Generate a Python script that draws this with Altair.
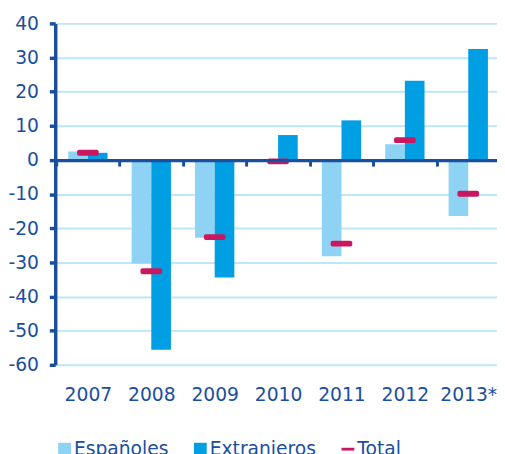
import altair as alt
import pandas as pd

years = ["2007", "2008", "2009", "2010", "2011", "2012", "2013*"]
espanoles = [2.5, -30.3, -22.8, -0.6, -28.2, 4.6, -16.4]
extranjeros = [2.1, -55.6, -34.4, 7.3, 11.6, 23.2, 32.5]
total = [2.1, -32.6, -22.6, -0.4, -24.5, 5.8, -9.9]
series = ["Españoles", "Extranjeros", "Total"]
colors = ["#8ed3f3", "#009fe3", "#c9185f"]
y_ticks = [-60, -50, -40, -30, -20, -10, 0, 10, 20, 30, 40]

DARK = "#1a4f9e"
GRID = "#bee6f6"
FONT = "DejaVu Sans"

bars_df = pd.DataFrame({
    "year": years * 2,
    "serie": ["Españoles"] * len(years) + ["Extranjeros"] * len(years),
    "value": espanoles + extranjeros,
})
total_df = pd.DataFrame({"year": years, "serie": ["Total"] * len(years), "value": total})

x_enc = alt.X(
    "year:N", sort=years, title=None,
    scale=alt.Scale(range=[1, 452], paddingInner=0, paddingOuter=0),
    axis=alt.Axis(
        labelAngle=0, labelFont=FONT, labelFontSize=19, labelColor=DARK,
        domainColor=DARK, domainWidth=3.5, tickBand="extent", tickColor=DARK,
        tickWidth=3, tickSize=6, offset=-208, labelPadding=223, zindex=1,
        grid=False, labelBaseline="top",
    ),
)
y_enc = alt.Y(
    "value:Q", title=None,
    scale=alt.Scale(domain=[-60, 40], nice=False, zero=False),
    axis=alt.Axis(
        values=y_ticks, labelExpr="datum.value", labelFont=FONT, labelFontSize=19,
        labelColor=DARK, domainColor=DARK, domainWidth=3.5, tickColor=DARK,
        tickWidth=3.5, tickSize=6, labelPadding=11, gridColor=GRID, gridWidth=2,
        labelOverlap=False,
    ),
)

legend_props = dict(
    orient="none", legendX=0, legendY=423, direction="horizontal", title=None,
    symbolSize=169, labelFont=FONT, labelFontSize=19, labelColor=DARK,
    columnPadding=22, labelOffset=0, symbolStrokeWidth=0, padding=0,
    symbolOpacity=1,
)
color_enc = alt.Color("serie:N", scale=alt.Scale(domain=series, range=colors),
                      legend=alt.Legend(**legend_props))

bars = alt.Chart(bars_df).mark_bar().encode(
    x=x_enc,
    y=y_enc,
    xOffset=alt.XOffset("serie:N", sort=series[:2],
                        scale=alt.Scale(paddingInner=0, paddingOuter=0.6125)),
    color=color_enc,
)

ticks = alt.Chart(total_df).mark_tick(
    orient="horizontal", size=22, thickness=6, cornerRadius=2, opacity=1
).encode(
    x=x_enc,
    y=y_enc,
    color=color_enc,
)

legend_layer = alt.Chart(total_df).transform_filter("false").mark_point(
    filled=True, opacity=1
).encode(
    x=x_enc,
    y=y_enc,
    color=color_enc,
    shape=alt.Shape("serie:N", scale=alt.Scale(
        domain=series, range=["square", "square", "M-1,-0.22H1V0.22H-1Z"]),
        legend=alt.Legend(**legend_props)),
)

chart = alt.layer(bars, ticks, legend_layer).properties(
    width=449, height=347,
    autosize=alt.AutoSizeParams(type="none"),
    padding={"left": 48, "top": 12, "right": 0, "bottom": 87},
    background="white",
).configure_view(stroke=None)

chart.save("out.html", embed_options={"renderer": "svg", "actions": False})
